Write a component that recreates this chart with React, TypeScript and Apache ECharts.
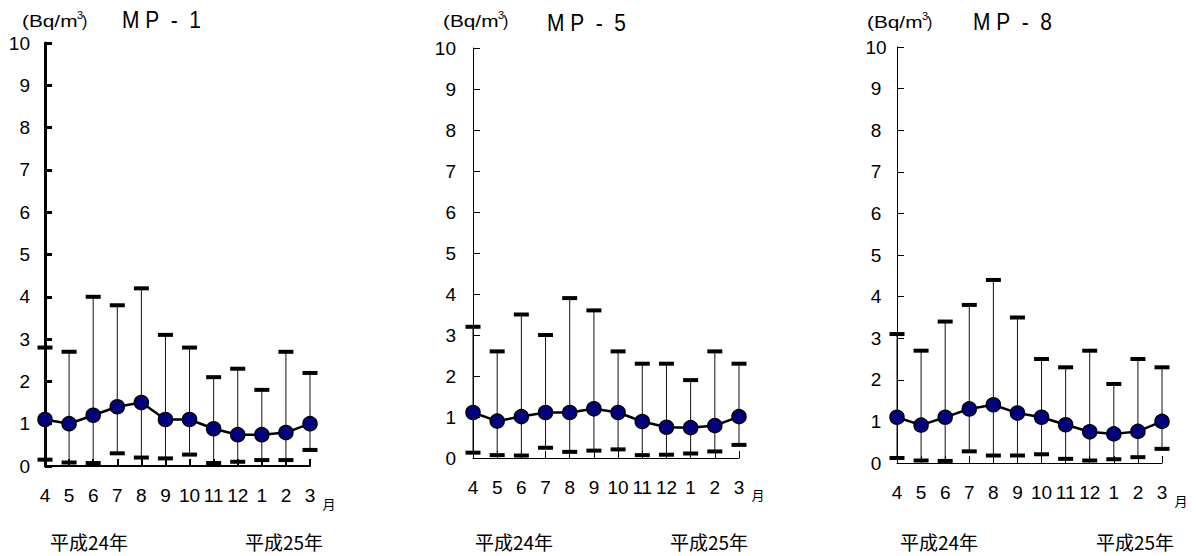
import React, { useEffect, useRef } from "react";
import * as echarts from "echarts";

const months = ["4", "5", "6", "7", "8", "9", "10", "11", "12", "1", "2", "3"];
const yTicks = [0, 10, 1]; // min, max, interval

const mp1Mean = [1.1, 1.0, 1.2, 1.4, 1.5, 1.1, 1.1, 0.88, 0.74, 0.74, 0.79, 1.0];
const mp1Max = [2.8, 2.7, 4.0, 3.8, 4.2, 3.1, 2.8, 2.1, 2.3, 1.8, 2.7, 2.2];
const mp1Min = [0.15, 0.08, 0.07, 0.3, 0.2, 0.18, 0.27, 0.07, 0.1, 0.14, 0.14, 0.38];

const mp5Mean = [1.11, 0.9, 1.01, 1.11, 1.11, 1.2, 1.11, 0.89, 0.75, 0.74, 0.79, 1.01];
const mp5Max = [3.2, 2.6, 3.5, 3.0, 3.9, 3.6, 2.6, 2.3, 2.3, 1.9, 2.6, 2.3];
const mp5Min = [0.13, 0.07, 0.06, 0.25, 0.15, 0.18, 0.21, 0.07, 0.08, 0.11, 0.16, 0.32];

const mp8Mean = [1.1, 0.91, 1.1, 1.3, 1.4, 1.2, 1.1, 0.92, 0.75, 0.7, 0.76, 1.0];
const mp8Max = [3.1, 2.7, 3.4, 3.8, 4.4, 3.5, 2.5, 2.3, 2.7, 1.9, 2.5, 2.3];
const mp8Min = [0.12, 0.06, 0.05, 0.28, 0.18, 0.18, 0.21, 0.1, 0.06, 0.09, 0.14, 0.34];

const titles = ["M\u00A0P\u00A0\u00A0-\u00A0\u00A01", "M\u00A0P\u00A0\u00A0-\u00A0\u00A05", "M\u00A0P\u00A0\u00A0-\u00A0\u00A08"];
const unitText = "(Bq/m";
const eraLabels = ["平成24年", "平成25年"];
const monthUnit = "月";

const panels = [
  { mean: mp1Mean, max: mp1Max, min: mp1Min },
  { mean: mp5Mean, max: mp5Max, min: mp5Min },
  { mean: mp8Mean, max: mp8Max, min: mp8Min },
];

// layout (pixels)
const grids = [
  { left: 45, top: 43, width: 265, height: 423, axisW: 3, xMargin: 20, yMargin: 15, yAlign: "right", titleX: 122, titleY: 20, unitX: 22, unitY: 21, lblY: 503, eraY: 541, era: [89, 284] },
  { left: 473, top: 48, width: 266, height: 410, axisW: 1, xMargin: 20, yMargin: 17, yAlign: "right", titleX: 547, titleY: 23, unitX: 443, unitY: 21, lblY: 494, eraY: 541, era: [514, 709] },
  { left: 897, top: 47, width: 265, height: 416, axisW: 1, xMargin: 20, yMargin: 21, yAlign: "center", titleX: 973, titleY: 22, unitX: 867, unitY: 22, lblY: 500, eraY: 541, era: [939, 1135] },
];

const FONT = "'Liberation Sans', Arial, sans-serif";
const CJK = "'Noto Sans CJK JP', sans-serif";

export default function App() {
  const ref = useRef<HTMLDivElement>(null);
  useEffect(() => {
    document.body.style.margin = "0";
    const chart = echarts.init(ref.current!, null, { renderer: "svg" });

    const grid = grids.map((g) => ({ left: g.left, top: g.top, width: g.width, height: g.height }));
    const xAxis = grids.map((g, i) => ({
      type: "category",
      gridIndex: i,
      data: months,
      boundaryGap: false,
      axisLine: { lineStyle: { color: "#000", width: i === 0 ? 2 : 1 } },
      axisTick: { inside: true, length: 7, alignWithLabel: true, lineStyle: { color: "#000", width: i === 0 ? 2 : 1 } },
      axisLabel: { interval: 0, hideOverlap: false, margin: g.xMargin, fontSize: 19, color: "#000", fontFamily: FONT },
      splitLine: { show: false },
    }));
    const yAxis = grids.map((g, i) => ({
      type: "value",
      gridIndex: i,
      min: yTicks[0],
      max: yTicks[1],
      interval: yTicks[2],
      axisLine: { show: true, lineStyle: { color: "#000", width: g.axisW } },
      axisTick: { show: true, inside: true, length: 7, lineStyle: { color: "#000", width: g.axisW } },
      axisLabel: { margin: g.yMargin, fontSize: 19, color: "#000", fontFamily: FONT, align: g.yAlign },
      splitLine: { show: false },
    }));

    const series: any[] = [];
    panels.forEach((p, i) => {
      series.push({
        type: "custom",
        xAxisIndex: i,
        yAxisIndex: i,
        clip: false,
        z: 1,
        encode: { x: 0, y: [1, 2] },
        data: p.min.map((lo, k) => [k, lo, p.max[k]]),
        renderItem: (params: any, api: any) => {
          const x = api.value(0);
          const pLo = api.coord([x, api.value(1)]);
          const pHi = api.coord([x, api.value(2)]);
          return {
            type: "group",
            children: [
              { type: "line", shape: { x1: pLo[0], y1: pLo[1], x2: pHi[0], y2: pHi[1] }, style: { stroke: "#111", lineWidth: 1 } },
              { type: "rect", shape: { x: pHi[0] - 7.5, y: pHi[1] - 2, width: 15, height: 4 }, style: { fill: "#000" } },
              { type: "rect", shape: { x: pLo[0] - 7.5, y: pLo[1] - 2, width: 15, height: 4 }, style: { fill: "#000" } },
            ],
          };
        },
      });
      series.push({
        type: "line",
        xAxisIndex: i,
        yAxisIndex: i,
        z: 3,
        data: p.mean,
        symbol: "circle",
        symbolSize: 14,
        itemStyle: { color: "#000080", borderColor: "#000", borderWidth: 1.5 },
        lineStyle: { color: "#000", width: 2.5 },
      });
    });

    const graphic: any[] = [];
    grids.forEach((g, i) => {
      graphic.push({ type: "text", x: g.titleX, y: g.titleY, scaleX: 0.95, scaleY: 1.1, style: { text: titles[i], font: `22px ${FONT}`, fill: "#000", textAlign: "left", textVerticalAlign: "middle" } });
      graphic.push({ type: "text", x: g.unitX, y: g.unitY, scaleX: 1.3, style: { text: unitText, font: `16px ${FONT}`, fill: "#000", textAlign: "left", textVerticalAlign: "middle" } });
      graphic.push({ type: "text", x: g.unitX + 55, y: g.unitY - 6, style: { text: "3", font: `11px ${FONT}`, fill: "#000", textAlign: "left", textVerticalAlign: "middle" } });
      graphic.push({ type: "text", x: g.unitX + 60, y: g.unitY, style: { text: ")", font: `16px ${FONT}`, fill: "#000", textAlign: "left", textVerticalAlign: "middle" } });
      graphic.push({ type: "text", x: g.left + g.width + 19, y: g.lblY, style: { text: monthUnit, font: `13px ${CJK}`, fill: "#000", textAlign: "center", textVerticalAlign: "middle" } });
      eraLabels.forEach((t, k) => {
        graphic.push({ type: "text", x: g.era[k], y: g.eraY, style: { text: t, font: `19px ${CJK}`, fill: "#000", textAlign: "center", textVerticalAlign: "middle" } });
      });
    });

    chart.setOption({
      animation: false,
      backgroundColor: "#fff",
      grid,
      xAxis,
      yAxis,
      series,
      graphic,
    } as any);
    return () => chart.dispose();
  }, []);
  return <div ref={ref} style={{ width: 1196, height: 556 }} />;
}
